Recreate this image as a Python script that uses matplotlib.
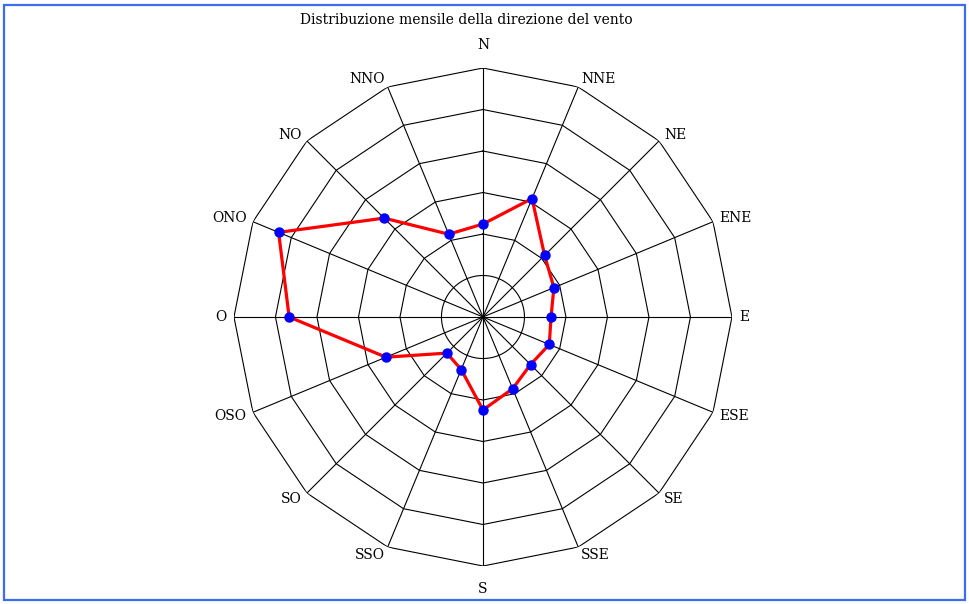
import numpy as np
import matplotlib
matplotlib.use("Agg")
import matplotlib.pyplot as plt
from matplotlib.patches import Rectangle
from matplotlib.transforms import offset_copy

# wind direction labels, clockwise from north (Italian)
directions = ["N", "NNE", "NE", "ENE", "E", "ESE", "SE", "SSE",
              "S", "SSO", "SO", "OSO", "O", "ONO", "NO", "NNO"]
# values in ring units (6 rings)
values = [2.24, 3.09, 2.10, 1.85, 1.64, 1.73, 1.62, 1.87,
          2.24, 1.37, 1.23, 2.53, 4.67, 5.33, 3.37, 2.16]
rings = [1, 2, 3, 4, 5, 6]
title = "Distribuzione mensile della direzione del vento"

plt.rcParams["font.family"] = ["DejaVu Serif"]

fig = plt.figure(figsize=(9.7, 6.04), dpi=100)
ax = fig.add_axes([0.2412, 0.0629, 0.5134, 0.8245], projection="polar")
ax.set_theta_zero_location("N")
ax.set_theta_direction(-1)
ax.set_ylim(0, 6)
ax.grid(False)
ax.set_xticks([]); ax.set_yticks([])
ax.spines["polar"].set_visible(False)

n = len(directions)
theta = np.arange(n) * 2 * np.pi / n
th_closed = np.append(theta, theta[0])

# polygon rings, innermost drawn as a circle
for r in rings:
    if r == 1:
        t = np.linspace(0, 2 * np.pi, 200)
        ax.plot(t, np.full_like(t, r), color="black", lw=0.8)
    else:
        ax.plot(th_closed, np.full(n + 1, r), color="black", lw=0.8)
for t in theta:
    ax.plot([t, t], [0, rings[-1]], color="black", lw=0.8)

# direction labels: offset from the centre in pixels, aligned outward
px2pt = 72 / 100
for t, lab in zip(theta, directions):
    s, c = np.sin(t), np.cos(t)
    dx = 256 * s
    dy = 258 * c
    if abs(s) < 0.01:
        dy += 14 * np.sign(c)
        ha = "center"
    else:
        ha = "left" if s > 0 else "right"
    tr = offset_copy(ax.transData, fig=fig, x=dx * px2pt, y=dy * px2pt, units="points")
    ax.text(0, 0, lab, transform=tr, ha=ha, va="center", fontsize=10, clip_on=False)

v_closed = np.append(values, values[0])
ax.plot(th_closed, v_closed, color="red", lw=2.3, zorder=3)
ax.plot(theta, values, "o", color="blue", ms=6.5, zorder=4)

fig.text(466 / 970, 1 - 20 / 604, title, ha="center", va="center", fontsize=10)

fig.patches.append(Rectangle((4 / 970, 4 / 604), 961 / 970, 595 / 604,
                             transform=fig.transFigure, fill=False,
                             edgecolor="#3c6cf0", lw=1.6))

fig.savefig("out.png", dpi=100)
